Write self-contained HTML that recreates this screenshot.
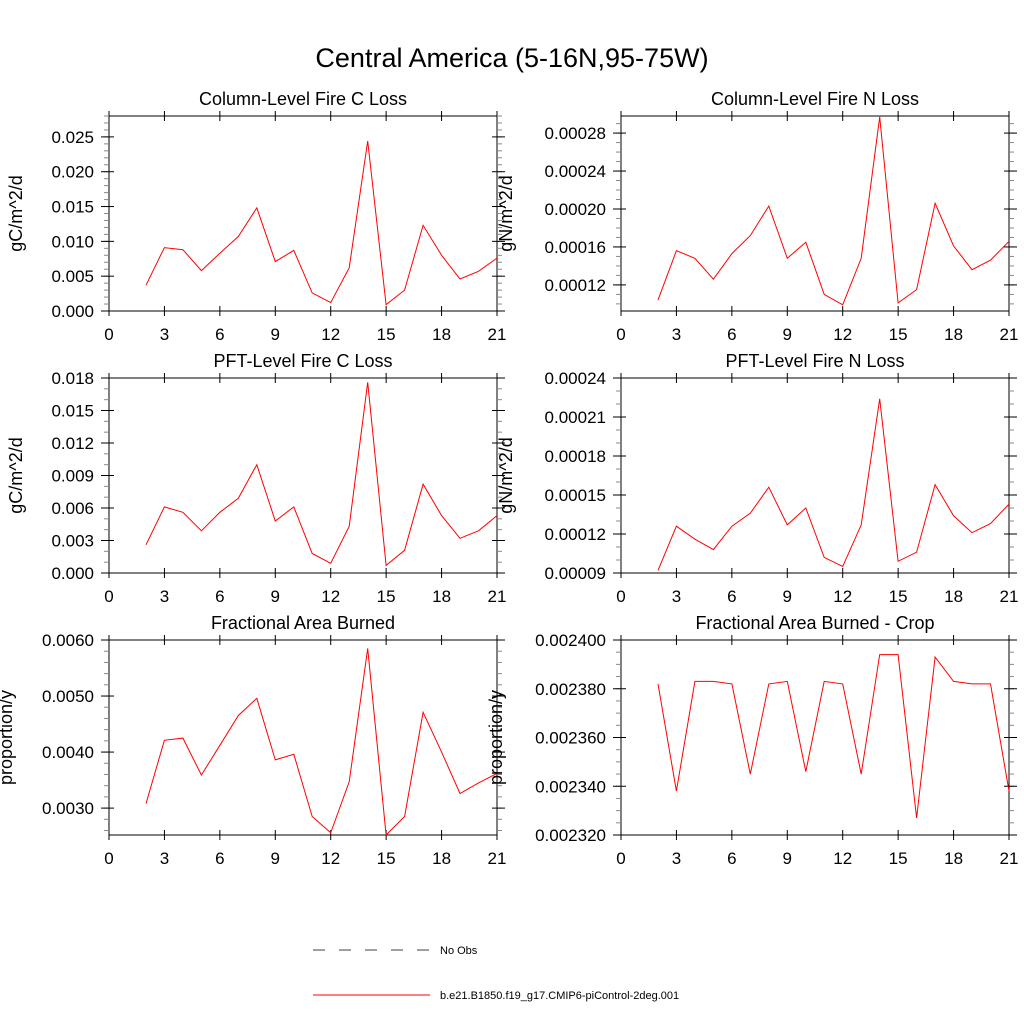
<!DOCTYPE html>
<html><head><meta charset="utf-8"><style>
body{margin:0;background:#fff}
svg{display:block;font-family:"Liberation Sans",sans-serif}
</style></head><body>
<svg id="c" width="1024" height="1024" viewBox="0 0 1024 1024">
<text x="512" y="67" font-size="27" text-anchor="middle">Central America (5-16N,95-75W)</text>
<line x1="313" y1="950" x2="430" y2="950" stroke="#000" stroke-width="0.7" stroke-dasharray="12,14"/>
<text x="440" y="954" font-size="11">No Obs</text>
<line x1="313" y1="995" x2="430" y2="995" stroke="#f00" stroke-width="1"/>
<text x="440" y="999" font-size="11">b.e21.B1850.f19_g17.CMIP6-piControl-2deg.001</text>
</svg>
<script>
const years=[2,3,4,5,6,7,8,9,10,11,12,13,14,15,16,17,18,19,20,21];
const xTicks=[0,3,6,9,12,15,18,21];
const colC=[0.0037,0.0091,0.0088,0.0058,0.0083,0.0107,0.0148,0.0071,0.0087,0.0026,0.0012,0.0062,0.0244,0.0009,0.0030,0.0123,0.0080,0.0046,0.0057,0.0076];
const colN=[0.000104,0.000156,0.000148,0.000126,0.000153,0.000172,0.000203,0.000148,0.000165,0.000110,0.000099,0.000148,0.000297,0.000101,0.000115,0.000206,0.000161,0.000136,0.000146,0.000166];
const pftC=[0.0026,0.0061,0.0056,0.0039,0.0056,0.0069,0.0100,0.0048,0.0061,0.0018,0.0009,0.0043,0.0176,0.0007,0.0021,0.0082,0.0053,0.0032,0.0039,0.0053];
const pftN=[0.000092,0.000126,0.000116,0.000108,0.000126,0.000136,0.000156,0.000127,0.000140,0.000102,0.000095,0.000127,0.000224,0.000099,0.000106,0.000158,0.000134,0.000121,0.000128,0.000143];
const farea=[0.00308,0.00421,0.00425,0.00359,0.00412,0.00465,0.00496,0.00386,0.00396,0.00285,0.00256,0.00347,0.00585,0.00252,0.00285,0.00471,0.00400,0.00326,0.00345,0.00362];
const fcrop=[0.002382,0.002338,0.002383,0.002383,0.002382,0.002345,0.002382,0.002383,0.002346,0.002383,0.002382,0.002345,0.002394,0.002394,0.002327,0.002393,0.002383,0.002382,0.002382,0.002338];
const tColC=["0.000","0.005","0.010","0.015","0.020","0.025"];
const tColN=["0.00012","0.00016","0.00020","0.00024","0.00028"];
const tPftC=["0.000","0.003","0.006","0.009","0.012","0.015","0.018"];
const tPftN=["0.00009","0.00012","0.00015","0.00018","0.00021","0.00024"];
const tArea=["0.0030","0.0040","0.0050","0.0060"];
const tCrop=["0.002320","0.002340","0.002360","0.002380","0.002400"];

const NS="http://www.w3.org/2000/svg";
const svg=document.getElementById('c');
function mk(tag,attrs,parent){const e=document.createElementNS(NS,tag);for(const k in attrs)e.setAttribute(k,attrs[k]);(parent||svg).appendChild(e);return e;}

const panels=[
 {name:'column-c',title:'Column-Level Fire C Loss',ylab:'gC/m^2/d',x0:109,y0:116,min:0,max:0.028,data:colC,ticks:tColC,minor:0.001,ylx:22},
 {name:'column-n',title:'Column-Level Fire N Loss',ylab:'gN/m^2/d',x0:621,y0:116,min:0.0000925,max:0.000298,data:colN,ticks:tColN,minor:0.00001,ylx:512},
 {name:'pft-c',title:'PFT-Level Fire C Loss',ylab:'gC/m^2/d',x0:109,y0:378,min:0,max:0.018,data:pftC,ticks:tPftC,minor:0.001,ylx:22},
 {name:'pft-n',title:'PFT-Level Fire N Loss',ylab:'gN/m^2/d',x0:621,y0:378,min:0.00009,max:0.00024,data:pftN,ticks:tPftN,minor:0.00001,ylx:512},
 {name:'area',title:'Fractional Area Burned',ylab:'proportion/y',x0:109,y0:640,min:0.00252,max:0.006,data:farea,ticks:tArea,minor:0.0002,ylx:12},
 {name:'crop',title:'Fractional Area Burned - Crop',ylab:'proportion/y',x0:621,y0:640,min:0.00232,max:0.0024,data:fcrop,ticks:tCrop,minor:0.000005,ylx:502}
];
const W=388,H=195;
panels.forEach(p=>{
 const g=mk('g',{});
 
 
 const xs=v=>p.x0+v/21*W;
 const ys=v=>p.y0+H-(v-p.min)/(p.max-p.min)*H;
 const r=mk('rect',{x:p.x0,y:p.y0,width:W,height:H,fill:'none',stroke:'#000','stroke-width':1},g);
 
 
 // x ticks
 xTicks.forEach(t=>{
  const x=xs(t);
  mk('line',{x1:x,y1:p.y0+H-5,x2:x,y2:p.y0+H+5,stroke:'#000'},g);
  mk('line',{x1:x,y1:p.y0-5,x2:x,y2:p.y0+5,stroke:'#000'},g);
  const tx=mk('text',{x:x,y:p.y0+H+29,'font-size':17,'text-anchor':'middle'},g);
  tx.textContent=t;
  
  
 });
 // minor y ticks
 const n=Math.round((p.max-p.min)/p.minor);
 const start=Math.ceil(p.min/p.minor-1e-6);
 for(let i=start;i*p.minor<=p.max+1e-12;i++){
  const y=ys(i*p.minor);
  mk('line',{x1:p.x0-5,y1:y,x2:p.x0,y2:y,stroke:'#888'},g);
  mk('line',{x1:p.x0+W,y1:y,x2:p.x0+W+5,y2:y,stroke:'#888'},g);
 }
 p.ticks.forEach(t=>{
  const y=ys(parseFloat(t));
  mk('line',{x1:p.x0-8,y1:y,x2:p.x0+5,y2:y,stroke:'#000'},g);
  mk('line',{x1:p.x0+W-5,y1:y,x2:p.x0+W+8,y2:y,stroke:'#000'},g);
  const tx=mk('text',{x:p.x0-15,y:y+6,'font-size':17,'text-anchor':'end'},g);
  tx.textContent=t;
  
  
 });
 const ti=mk('text',{x:p.x0+W/2,y:p.y0-11,'font-size':18,'text-anchor':'middle'},g);
 ti.textContent=p.title;
 
 
 const yl=mk('text',{x:0,y:0,'font-size':18,'text-anchor':'middle',transform:`translate(${p.ylx},${p.y0+H/2}) rotate(-90)`},g);
 yl.textContent=p.ylab;
 
 
 const pts=p.data.map((v,i)=>xs(years[i]).toFixed(1)+','+ys(v).toFixed(1)).join(' ');
 const pl=mk('polyline',{points:pts,fill:'none',stroke:'#f00','stroke-width':1},g);
 
 
});
</script>
</body></html>
